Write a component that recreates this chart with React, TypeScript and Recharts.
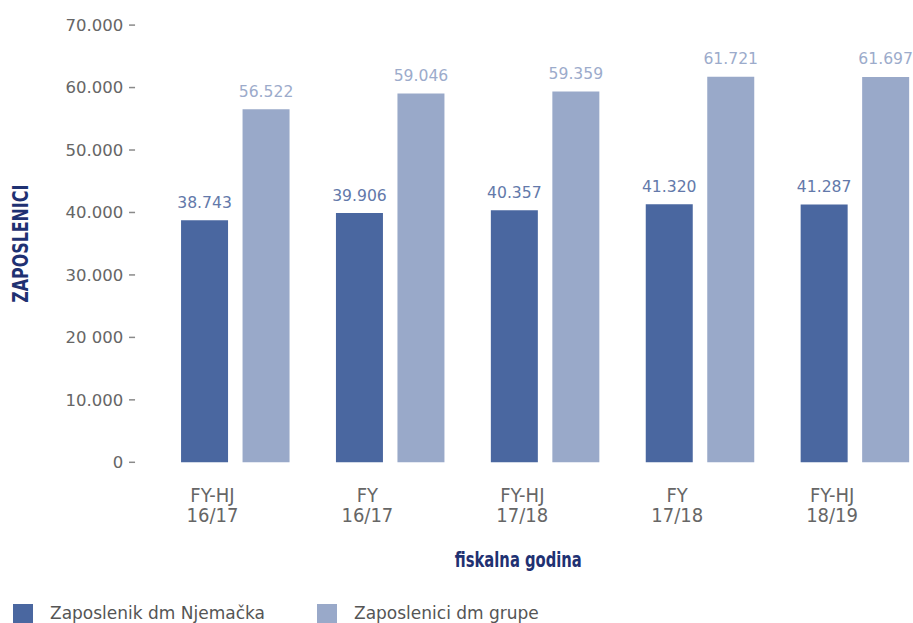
import React from 'react';
import { BarChart, Bar, XAxis, YAxis, Legend, LabelList, Label } from 'recharts';

const categories = ['FY-HJ 16/17', 'FY 16/17', 'FY-HJ 17/18', 'FY 17/18', 'FY-HJ 18/19'];
const germanyValues = [38743, 39906, 40357, 41320, 41287];
const groupValues = [56522, 59046, 59359, 61721, 61697];
const yTickValues = [0, 10000, 20000, 30000, 40000, 50000, 60000, 70000];
const yTickLabels = ['0', '10.000', '20 000', '30.000', '40.000', '50.000', '60.000', '70.000'];
const seriesNames = ['Zaposlenik dm Njemačka', 'Zaposlenici dm grupe'];
const yAxisTitle = 'ZAPOSLENICI';
const xAxisTitle = 'fiskalna godina';

const data = categories.map((c, i) => ({ category: c, germany: germanyValues[i], group: groupValues[i] }));

const DARK = '#4a67a0';
const LIGHT = '#99a9c9';
const DARK_LABEL = '#6379aa';
const LIGHT_LABEL = '#9cabcb';
const NAVY = '#1f3172';
const GRAY = '#666666';
const SANS = "'DejaVu Sans', 'Open Sans', sans-serif";
const NARROW = "'Liberation Sans Narrow', 'DejaVu Sans Condensed', 'Roboto Condensed', sans-serif";

const fmt = (v: number) => {
  const s = String(v);
  return s.length > 3 ? s.slice(0, -3) + '.' + s.slice(-3) : s;
};

const XTick = (props: any) => {
  const { x, y, payload } = props;
  const [l1, l2] = String(payload.value).split(' ');
  return (
    <text x={x} y={y} textAnchor="middle" fill={GRAY} fontFamily={NARROW} fontSize={20}>
      <tspan x={x} dy={1.6}>{l1}</tspan>
      <tspan x={x} dy={20}>{l2}</tspan>
    </text>
  );
};

const YTitle = (props: any) => {
  const vb = props.viewBox || {};
  const cx = 28;
  const cy = vb.y + vb.height / 2;
  return (
    <text x={cx} y={cy} transform={`rotate(-90, ${cx}, ${cy})`} textAnchor="middle" fill={NAVY}
      fontFamily={NARROW} fontWeight="bold" fontSize={21} textLength={118} lengthAdjust="spacingAndGlyphs">{yAxisTitle}</text>
  );
};

const XTitle = (props: any) => {
  const vb = props.viewBox || {};
  const cx = vb.x + vb.width / 2 - 4;
  const cy = vb.y + 74.6;
  return (
    <text x={cx} y={cy} textAnchor="middle" fill={NAVY} fontFamily={NARROW} fontWeight="bold" fontSize={21}
      textLength={127} lengthAdjust="spacingAndGlyphs">
      {xAxisTitle}
    </text>
  );
};

const LegendContent = (props: any) => {
  const items = [...(props.payload || [])].sort(
    (a: any, b: any) => seriesNames.indexOf(a.value) - seriesNames.indexOf(b.value)
  );
  const lefts = [13, 317];
  return (
    <div style={{ position: 'relative', height: 20, width: 913 }}>
      {items.map((it: any, i: number) => (
        <div key={i} style={{ position: 'absolute', left: lefts[i], top: 0, height: 20, display: 'flex', alignItems: 'center' }}>
          <span style={{ display: 'inline-block', width: 20, height: 19, background: it.color }} />
          <span style={{ marginLeft: 17, fontFamily: SANS, fontSize: 17, color: '#555', lineHeight: '20px', whiteSpace: 'nowrap' }}>
            {it.value}
          </span>
        </div>
      ))}
    </div>
  );
};

export default function App() {
  return (
    <div style={{ position: 'fixed', left: 0, top: 0, width: 913, height: 623, background: '#fff' }}>
      <BarChart width={913} height={623} data={data} barSize={47} barGap={14.5}
        margin={{ top: 25.1, right: 3.45, bottom: 0, left: 0 }}>
        <XAxis xAxisId="bars" dataKey="category" hide padding={{ left: 23, right: -23 }} />
        <XAxis xAxisId="labels" dataKey="category" height={140.7} axisLine={false} tickLine={false}
          tickSize={6} tickMargin={2} tick={<XTick />} interval={0}>
          <Label content={<XTitle />} />
        </XAxis>
        <YAxis width={135.05} domain={[0, 70000]} ticks={yTickValues} interval={0} axisLine={false}
          tickSize={6} tickMargin={5.75}
          tickLine={{ stroke: '#8a8a8a', strokeWidth: 1.5 }}
          tick={{ fill: GRAY, fontFamily: SANS, fontSize: 16.5 }}
          tickFormatter={(v: number) => yTickLabels[yTickValues.indexOf(v)]}>
          <Label content={<YTitle />} />
        </YAxis>
        <Legend verticalAlign="bottom" align="left" height={20} content={<LegendContent />} />
        <Bar xAxisId="bars" dataKey="germany" name={seriesNames[0]} fill={DARK} isAnimationActive={false}>
          <LabelList dataKey="germany" position="top" offset={12.5} formatter={fmt}
            style={{ fill: DARK_LABEL, fontFamily: SANS, fontSize: 15.6 }} />
        </Bar>
        <Bar xAxisId="bars" dataKey="group" name={seriesNames[1]} fill={LIGHT} isAnimationActive={false}>
          <LabelList dataKey="group" position="top" offset={12.5} formatter={fmt}
            style={{ fill: LIGHT_LABEL, fontFamily: SANS, fontSize: 15.6 }} />
        </Bar>
      </BarChart>
    </div>
  );
}
